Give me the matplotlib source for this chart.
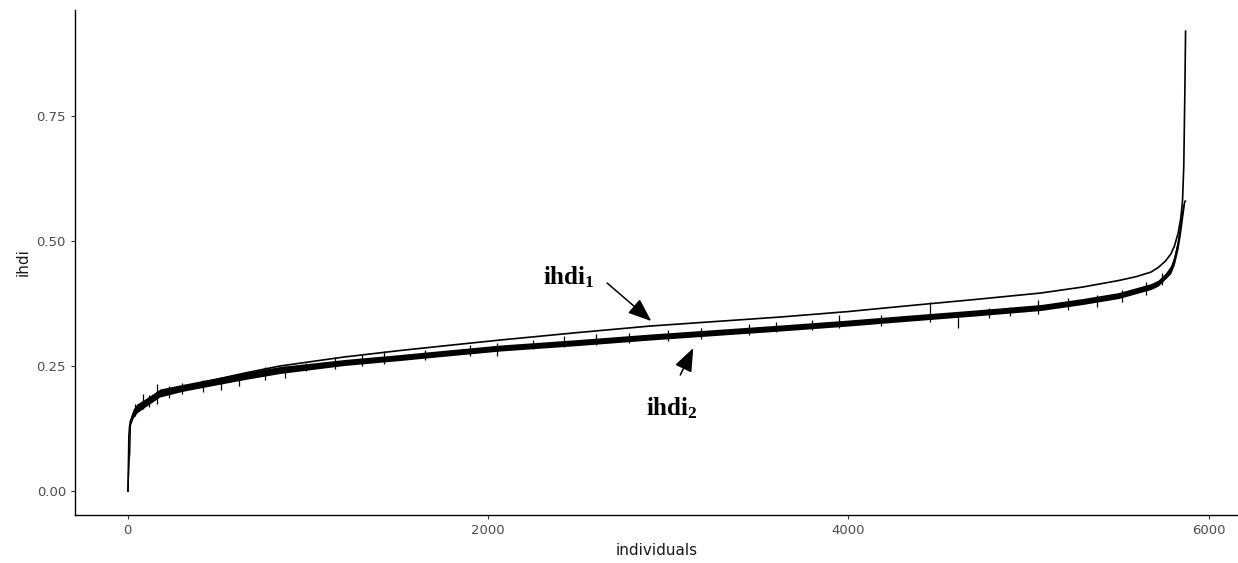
import matplotlib
matplotlib.use("Agg")
import matplotlib.pyplot as plt

plt.rcParams["mathtext.fontset"] = "custom"
plt.rcParams["mathtext.bf"] = "Liberation Serif:bold"
plt.rcParams["mathtext.rm"] = "Liberation Serif:bold"

# values (individuals sorted by ihdi)
individuals = [1, 6, 10, 15, 30, 50, 100, 178, 300, 400, 650, 844, 1200, 1511,
               1800, 2067, 2500, 2900, 3300, 3622, 4000, 4344, 4700, 5067, 5300,
               5500, 5600, 5680, 5720, 5760, 5790, 5810, 5830, 5845, 5855, 5862,
               5868, 5872]
ihdi1 = [0.00, 0.11, 0.13, 0.14, 0.152, 0.163, 0.178, 0.195, 0.207, 0.216,
         0.236, 0.250, 0.268, 0.281, 0.292, 0.302, 0.317, 0.330, 0.340, 0.348,
         0.359, 0.371, 0.383, 0.396, 0.408, 0.421, 0.429, 0.438, 0.447, 0.460,
         0.474, 0.490, 0.515, 0.545, 0.580, 0.650, 0.800, 0.920]
ihdi2 = [0.00, 0.060, 0.075, 0.140, 0.155, 0.165, 0.177, 0.196, 0.206, 0.213,
         0.230, 0.242, 0.257, 0.267, 0.277, 0.286, 0.297, 0.308, 0.318, 0.326,
         0.336, 0.346, 0.356, 0.367, 0.379, 0.391, 0.401, 0.409, 0.416, 0.430,
         0.443, 0.463, 0.495, 0.530, 0.555, 0.570, 0.580, 0.580]
ihdi2_spread = [0.0, 0.006, 0.006, 0.008, 0.009, 0.009, 0.008, 0.008, 0.007,
                0.007, 0.007, 0.007, 0.006, 0.006, 0.006, 0.006, 0.006, 0.006,
                0.006, 0.006, 0.006, 0.006, 0.006, 0.006, 0.006, 0.006, 0.006,
                0.006, 0.006, 0.006, 0.008, 0.010, 0.012, 0.014, 0.012, 0.008,
                0.0, 0.0]

# isolated spikes of ihdi2
spike_x = [40, 83, 120, 160, 230, 300, 420, 520, 620, 760, 872, 990, 1150,
           1300, 1420, 1650, 1900, 2050, 2250, 2420, 2600, 2780, 3000, 3180,
           3450, 3600, 3800, 3950, 4180, 4455, 4611, 4780, 4900, 5050, 5222,
           5380, 5520, 5650, 5740]
spike_lo = [0.150, 0.165, 0.168, 0.175, 0.186, 0.195, 0.198, 0.202, 0.210,
            0.222, 0.226, 0.240, 0.245, 0.250, 0.255, 0.262, 0.270, 0.270,
            0.284, 0.288, 0.292, 0.296, 0.300, 0.305, 0.312, 0.318, 0.322,
            0.326, 0.330, 0.338, 0.326, 0.346, 0.350, 0.355, 0.362, 0.368,
            0.378, 0.392, 0.412]
spike_hi = [0.175, 0.195, 0.192, 0.215, 0.210, 0.216, 0.222, 0.224, 0.234,
            0.248, 0.250, 0.256, 0.268, 0.272, 0.280, 0.282, 0.292, 0.296,
            0.302, 0.310, 0.314, 0.316, 0.322, 0.326, 0.335, 0.338, 0.342,
            0.352, 0.352, 0.378, 0.350, 0.366, 0.368, 0.382, 0.386, 0.392,
            0.402, 0.418, 0.436]

xticks = [0, 2000, 4000, 6000]
yticks = [0.00, 0.25, 0.50, 0.75]

fig = plt.figure(figsize=(12.38, 5.63), dpi=100)
ax = fig.add_axes([0.0606, 0.0853, 0.9394, 0.8967])

lo = [v - s for v, s in zip(ihdi2, ihdi2_spread)]
hi = [v + s for v, s in zip(ihdi2, ihdi2_spread)]
ax.fill_between(individuals, lo, hi, color="black", lw=0)
ax.plot(individuals, ihdi2, color="black", lw=1.0)
ax.vlines(spike_x, spike_lo, spike_hi, color="black", lw=0.9)
ax.plot(individuals, ihdi1, color="black", lw=1.2)

ax.set_xlim(-293, 6163)
ax.set_ylim(-0.048, 0.962)
ax.set_xticks(xticks)
ax.set_xticklabels([str(t) for t in xticks])
ax.set_yticks(yticks)
ax.set_yticklabels([f"{t:.2f}" for t in yticks])
ax.tick_params(colors="#333333", labelcolor="#4D4D4D", labelsize=9.5,
               length=3, width=0.8)
for side in ["top", "right"]:
    ax.spines[side].set_visible(False)
for side in ["left", "bottom"]:
    ax.spines[side].set_linewidth(1.0)
    ax.spines[side].set_color("black")
ax.set_xlabel("individuals", fontsize=11, color="#1A1A1A", labelpad=4)
ax.set_ylabel("ihdi", fontsize=11, color="#1A1A1A", labelpad=4)

# labels with arrows
ax.text(2450, 0.428, r"$\mathbf{ihdi_1}$", fontsize=18, ha="center", va="center")
ax.annotate("", xy=(2906, 0.340), xytext=(2661, 0.416),
            arrowprops=dict(arrowstyle="-|>,head_length=0.9,head_width=0.35",
                            color="black", lw=1.1, shrinkA=0, shrinkB=0,
                            mutation_scale=16))
ax.text(3022, 0.166, r"$\mathbf{ihdi_2}$", fontsize=18, ha="center", va="center")
ax.annotate("", xy=(3139, 0.286), xytext=(3067, 0.232),
            arrowprops=dict(arrowstyle="-|>,head_length=0.9,head_width=0.35",
                            color="black", lw=1.1, shrinkA=0, shrinkB=0,
                            mutation_scale=16))

fig.savefig("out.png", dpi=100)
